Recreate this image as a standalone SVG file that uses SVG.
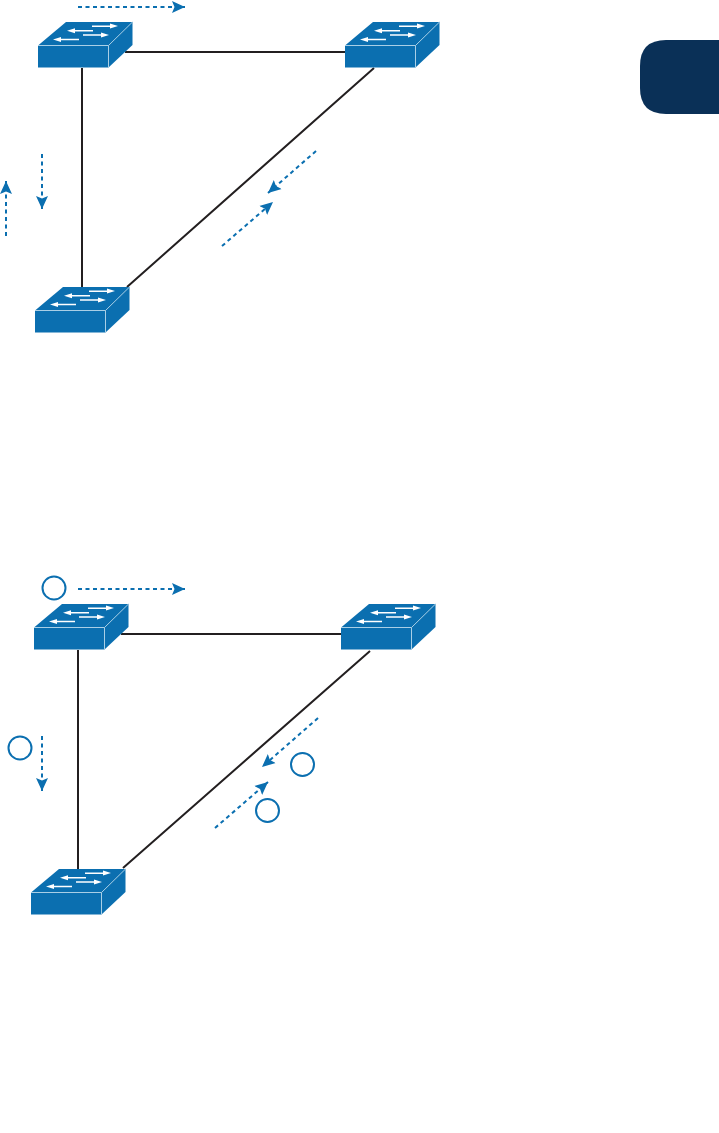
<svg xmlns="http://www.w3.org/2000/svg" width="719" height="1133" viewBox="0 0 719 1133">
<style>
.link{stroke:#231f20;stroke-width:2;fill:none}
.flow{stroke:#0b6fb0;stroke-width:2;stroke-dasharray:4 3.5;fill:none;marker-end:url(#ah)}
.badge{fill:#fff;stroke:#0b6fb0;stroke-width:2}
.top{fill:#0b6fb0}
.edge{stroke:#a9cfe6;stroke-width:1;fill:none}
.wa{stroke:#fff;stroke-width:1.5;fill:none}
.wh{fill:#fff}
</style>
<defs>
<marker id="ah" markerUnits="userSpaceOnUse" markerWidth="14" markerHeight="14" refX="13" refY="6.500" orient="auto"><path d="M0 0.500L13 6.500L0 12.500L2.500 6.500Z" fill="#0b6fb0"/></marker>
<symbol id="sw" overflow="visible">
<path class="top" d="M0 23.500L28 0H94.500V23L70.500 45.500H0Z"/>
<path class="edge" d="M0 23.500H70.500L94.500 0M70.500 23.500V45.500"/>
<path class="wa" d="M54 4.200H74M55 8.700H35M45 13H65M41 17.500H21"/>
<path class="wh" d="M80 4L72 1.500V6.500ZM29 8.700L37 6.200V11.200ZM71 13L63 10.500V15.500ZM15 17.500L23 15V20Z"/>
</symbol>
</defs>
<g id="connectors">
<path class="link" d="M125 52H345M82 68V287M374 68L127 287"/>
<path class="link" d="M121 634H341M78 650V869M370 651L123 868"/>
<path class="flow" d="M78 7H185"/>
<path class="flow" d="M42 154V209"/>
<path class="flow" d="M6 236V181"/>
<path class="flow" d="M316 151L268 193"/>
<path class="flow" d="M222 246L273 202"/>
<path class="flow" d="M78 589H185"/>
<path class="flow" d="M42 736V791"/>
<path class="flow" d="M318 718L262 767"/>
<path class="flow" d="M215 828L268 782"/>
</g>
<g id="sw1"><use href="#sw" x="38" y="22"/></g>
<g id="sw2"><use href="#sw" x="345" y="22"/></g>
<g id="sw3"><use href="#sw" x="35" y="287"/></g>
<g id="sw4"><use href="#sw" x="34" y="604"/></g>
<g id="sw5"><use href="#sw" x="341" y="604"/></g>
<g id="sw6"><use href="#sw" x="31" y="869"/></g>
<g id="badge1"><circle class="badge" cx="54" cy="588" r="11.500"/></g>
<g id="badge2"><circle class="badge" cx="20" cy="748" r="11.500"/></g>
<g id="badge3"><circle class="badge" cx="302.500" cy="764.500" r="11.500"/></g>
<g id="badge4"><circle class="badge" cx="267.500" cy="810.500" r="11.500"/></g>
<g id="tab"><path d="M719 40H666Q640 40 640 66V88Q640 114 666 114H719Z" fill="#0a3057"/></g>
</svg>
